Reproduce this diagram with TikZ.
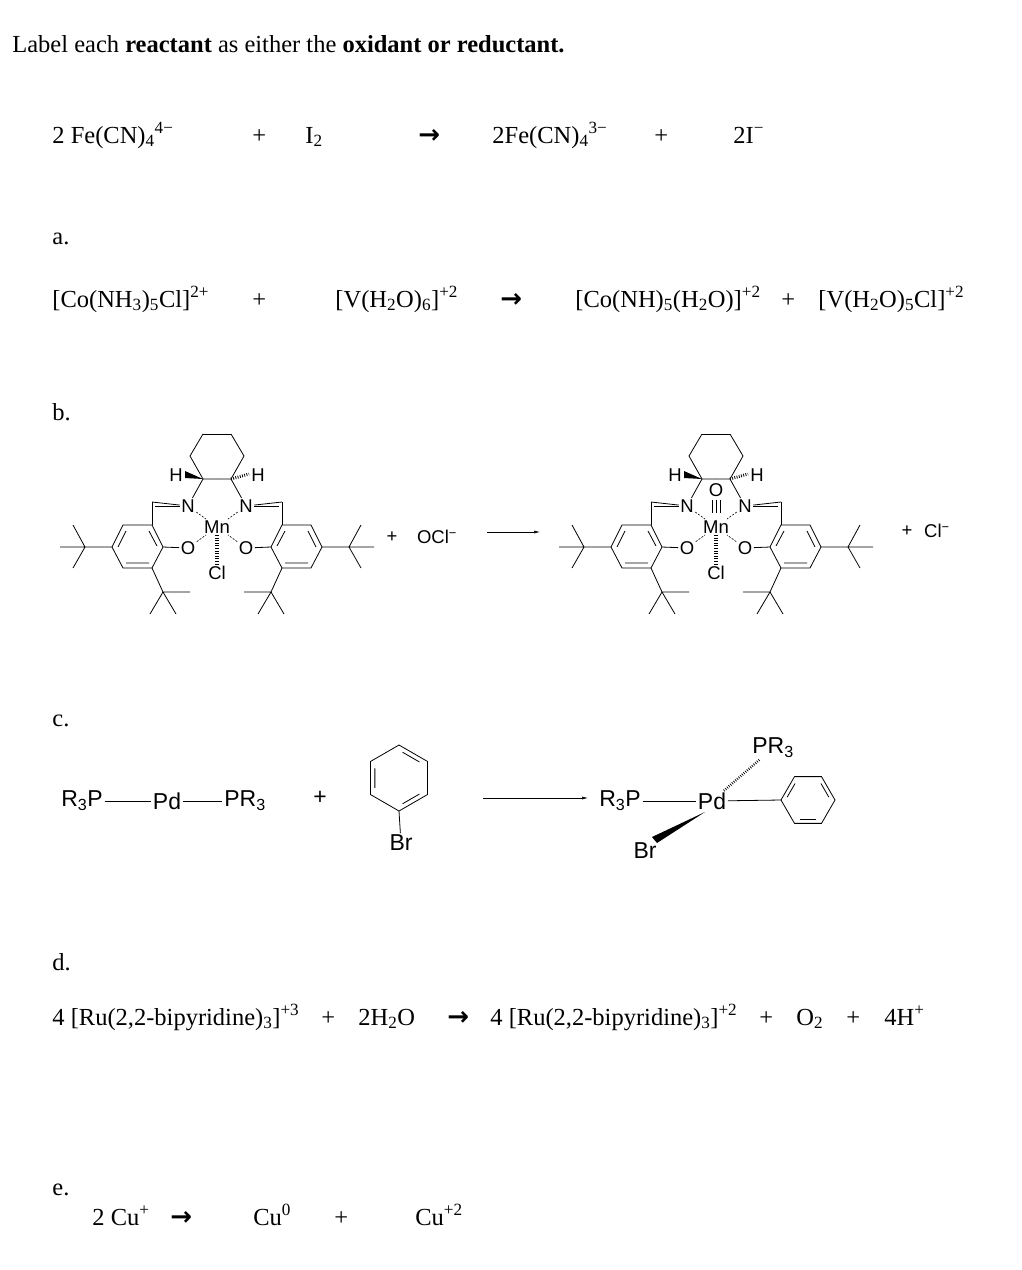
\documentclass[tikz,border=0pt]{standalone}
\usepackage{fontspec}
\usetikzlibrary{arrows.meta}
\setmainfont{Liberation Serif}
\newfontfamily\chemfont{Liberation Sans}
\newfontfamily\arrowfont{DejaVu Sans}
\newcommand{\sbs}[1]{\textsubscript{#1}}
\newcommand{\sps}[1]{\textsuperscript{#1}}
\newcommand{\rarr}{{\arrowfont\bfseries\fontsize{26}{28}\selectfont →}}

% one half of the salen ligand, Mn at the origin
\newcommand{\salenhalf}{%
  \draw (-14,-93) -- (-27,-71) -- (-14,-48) -- (0,-48);
  \draw (-14,-93) -- (0,-93);
  \draw (-65,-2) -- (-94,-2) -- (-105,20) -- (-94,41) -- (-65,41) -- (-54,20) -- cycle;
  \draw (-91,4) -- (-99,20) (-68,4) -- (-60,19) (-68,36) -- (-91,36);
  \draw (-65,-2) -- (-65,-25);
  \draw (-105,20) -- (-132,20) -- (-157,20) (-132,20) -- (-144,-2) (-132,20) -- (-144,41);
  \draw (-65,41) -- (-54,65) -- (-27,65) (-54,65) -- (-67,87) (-54,65) -- (-41,87);
}

\begin{document}
\begin{tikzpicture}[x=1pt,y=-1pt,line width=0.8pt]
\tikzset{txt/.style={anchor=base west, inner sep=0pt, font=\fontsize{24.5}{28}\selectfont},
  atom/.style={font=\chemfont\fontsize{18.5}{21}\selectfont, inner sep=1.2pt},
  bigatom/.style={font=\chemfont\fontsize{23}{27}\selectfont, inner sep=1.5pt},
  hash/.style={line width=4pt, dash pattern=on 0.9pt off 1.7pt},
  coord/.style={dash pattern=on 2pt off 1.5pt, line width=0.6pt}}
\useasboundingbox (0,0) rectangle (1022,1270);

% Title and equations
\node[txt] (title) at (12,52) {Label each \textbf{reactant} as either the \textbf{oxidant or reductant.}};

\node[txt] (fe1) at (52,143) {2 Fe(CN)\sbs{4}\sps{4−}};
\node[txt] (p1) at (252,143) {+};
\node[txt] (i2) at (305,143) {I\sbs{2}};
\node[txt] (r1) at (418,143) {\rarr};
\node[txt] (fe2) at (492,143) {2Fe(CN)\sbs{4}\sps{3−}};
\node[txt] (p2) at (654,143) {+};
\node[txt] (io) at (733,143) {2I\sps{−}};

\node[txt] (la) at (52,244) {a.};
\node[txt] (co1) at (52,307) {[Co(NH\sbs{3})\sbs{5}Cl]\sps{2+}};
\node[txt] (p3) at (252,307) {+};
\node[txt] (v1) at (335,307) {[V(H\sbs{2}O)\sbs{6}]\sps{+2}};
\node[txt] (r2) at (500,307) {\rarr};
\node[txt] (co2) at (575,307) {[Co(NH)\sbs{5}(H\sbs{2}O)]\sps{+2}};
\node[txt] (p4) at (781,307) {+};
\node[txt] (v2) at (818,307) {[V(H\sbs{2}O)\sbs{5}Cl]\sps{+2}};

\node[txt] (lb) at (52,420) {b.};

% b. left Mn complex
\begin{scope}[shift={(217,527)}]
  \salenhalf
  \begin{scope}[xscale=-1] \salenhalf \end{scope}
  \node[atom] (mnl) at (0,0) {Mn};
  \node[atom] (n1l) at (-29,-21) {N};
  \node[atom] (n2l) at (29,-21) {N};
  \node[atom] (o1l) at (-29,21) {O};
  \node[atom] (o2l) at (29,21) {O};
  \node[atom] (cll) at (0,46) {Cl};
  \node[atom] (h1l) at (-41,-52) {H};
  \node[atom] (h2l) at (41,-52) {H};
  \draw (n1l) -- (-14,-48) (n2l) -- (14,-48);
  \draw (n1l) -- (-65,-25) (n2l) -- (65,-25);
  \draw (-62,-21) -- (n1l.west) (62,-21) -- (n2l.east);
  \draw (o1l) -- (-54,20) (o2l) -- (54,20);
  \draw[coord] (n1l) -- (mnl) (n2l) -- (mnl) (o1l) -- (mnl) (o2l) -- (mnl);
  \draw[hash] (mnl) -- (cll);
  \fill (-14,-48) -- (-32,-56) -- (-32,-49) -- cycle;
  \draw[line width=3pt, dash pattern=on 0.8pt off 1.5pt] (14,-48) -- (32,-53);
\end{scope}
\node[atom] (pl1) at (392,537) {+};
\node[atom] (ocl) at (437,537) {OCl\sps{−}};
\draw[line width=0.6pt, -{Latex[length=6pt,width=3pt]}] (487,532) coordinate (ab1) -- (540,532) coordinate (ab2);

% b. right Mn complex
\begin{scope}[shift={(716,527)}]
  \salenhalf
  \begin{scope}[xscale=-1] \salenhalf \end{scope}
  \node[atom] (mnr) at (0,0) {Mn};
  \node[atom] (n1r) at (-29,-21) {N};
  \node[atom] (n2r) at (29,-21) {N};
  \node[atom] (o1r) at (-29,21) {O};
  \node[atom] (o2r) at (29,21) {O};
  \node[atom] (clr) at (0,46) {Cl};
  \node[atom] (h1r) at (-41,-52) {H};
  \node[atom] (h2r) at (41,-52) {H};
  \node[atom] (oxo) at (0,-37) {O};
  \draw (n1r) -- (-14,-48) (n2r) -- (14,-48);
  \draw (n1r) -- (-65,-25) (n2r) -- (65,-25);
  \draw (-62,-21) -- (n1r.west) (62,-21) -- (n2r.east);
  \draw (o1r) -- (-54,20) (o2r) -- (54,20);
  \draw (-4,-27) -- (-4,-14) (0,-27) -- (0,-14) (4,-27) -- (4,-14);
  \draw[coord] (n1r) -- (mnr) (n2r) -- (mnr) (o1r) -- (mnr) (o2r) -- (mnr);
  \draw[hash] (mnr) -- (clr);
  \fill (-14,-48) -- (-32,-56) -- (-32,-49) -- cycle;
  \draw[line width=3pt, dash pattern=on 0.8pt off 1.5pt] (14,-48) -- (32,-53);
\end{scope}
\node[atom] (pl2) at (907,531) {+};
\node[atom] (clm) at (937,531) {Cl\sps{−}};

% c.
\node[txt] (lc) at (52,726) {c.};
\node[bigatom] (r3pa) at (82,801) {R\sbs{3}P};
\node[bigatom] (pda) at (167,801) {Pd};
\node[bigatom] (pr3a) at (245,801) {PR\sbs{3}};
\draw (r3pa) -- (pda) (pda) -- (pr3a);
\node[bigatom] (pl3) at (320,798) {+};
\begin{scope}[shift={(399,778)}]
  \draw (90:33) -- (30:33) -- (-30:33) -- (-90:33) -- (-150:33) -- (150:33) -- cycle;
  \draw (82:26) -- (38:26) (-38:26) -- (-82:26) (158:26) -- (-158:26);
\end{scope}
\node[bigatom] (bra) at (401,843) {Br};
\draw (399,811) -- (bra);
\draw[line width=0.6pt, -{Latex[length=6pt,width=3pt]}] (483,798) coordinate (cb1) -- (588,798) coordinate (cb2);
\node[bigatom] (r3pb) at (620,801) {R\sbs{3}P};
\node[bigatom] (pdb) at (712,801) {Pd};
\node[bigatom] (pr3b) at (773,748) {PR\sbs{3}};
\node[bigatom] (brb) at (645,851) {Br};
\draw (r3pb) -- (pdb);
\begin{scope}[shift={(808,800)}]
  \draw (0:27) -- (60:27) -- (120:27) -- (180:27) -- (240:27) -- (300:27) -- cycle;
  \draw (68:21) -- (112:21) (-8:21) -- (-52:21) (188:21) -- (232:21);
\end{scope}
\draw (pdb) -- (781,800);
\draw[line width=2.5pt, dash pattern=on 0.7pt off 1.5pt] (pdb) -- (pr3b);
\fill (705,812) -- (657,843) -- (652,837) -- cycle;

% d. and e.
\node[txt] (ld) at (52,970) {d.};
\node[txt] (ru1) at (52,1025) {4 [Ru(2,2-bipyridine)\sbs{3}]\sps{+3}};
\node[txt] (p5) at (321,1025) {+};
\node[txt] (h2o) at (358,1025) {2H\sbs{2}O};
\node[txt] (r3) at (447,1025) {\rarr};
\node[txt] (ru2) at (490,1025) {4 [Ru(2,2-bipyridine)\sbs{3}]\sps{+2}};
\node[txt] (p6) at (759,1025) {+};
\node[txt] (o2) at (796,1025) {O\sbs{2}};
\node[txt] (p7) at (846,1025) {+};
\node[txt] (hp) at (884,1025) {4H\sps{+}};

\node[txt] (le) at (52,1195) {e.};
\node[txt] (cu1) at (92,1225) {2 Cu\sps{+}};
\node[txt] (r4) at (170,1225) {\rarr};
\node[txt] (cu2) at (253,1225) {Cu\sps{0}};
\node[txt] (p8) at (334,1225) {+};
\node[txt] (cu3) at (415,1225) {Cu\sps{+2}};
\end{tikzpicture}
\end{document}
